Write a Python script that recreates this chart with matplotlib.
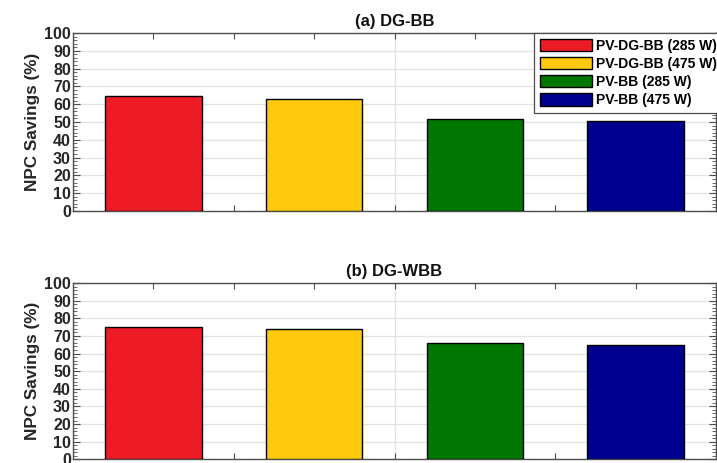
import matplotlib
matplotlib.use("Agg")
import matplotlib.pyplot as plt
from matplotlib.ticker import MultipleLocator, NullFormatter

plt.rcParams['font.family'] = ['Liberation Sans', 'DejaVu Sans']
plt.rcParams['font.weight'] = 'bold'

series = ['PV-DG-BB (285 W)', 'PV-DG-BB (475 W)', 'PV-BB (285 W)', 'PV-BB (475 W)']
colors = ['#ED1C24', '#FFC90E', '#007700', '#00008F']
dg_bb = [64.4, 63.1, 51.7, 50.4]
dg_wbb = [75.0, 74.0, 66.1, 65.1]
titles = ['(a) DG-BB', '(b) DG-WBB']
yticks = list(range(0, 101, 10))

W, H = 717, 463
fig = plt.figure(figsize=(W / 100, H / 100), dpi=100)
left = 73 / W
right = 716 / W
panels = [(33, 211), (283, 459.3)]
data = [dg_bb, dg_wbb]

spine_col = '#4d4d4d'
for (top, bot), vals, title in zip(panels, data, titles):
    ax = fig.add_axes([left, 1 - bot / H, right - left, (bot - top) / H])
    x = list(range(1, len(vals) + 1))
    bars = ax.bar(x, vals, width=0.6, color=colors, edgecolor='black',
                  linewidth=1.0, zorder=3)
    ax.set_xlim(0.5, 4.5)
    ax.set_ylim(0, 100)
    ax.set_yticks(yticks)
    ax.set_yticklabels([str(v) for v in yticks], fontsize=11.5, fontweight='bold')
    ax.yaxis.set_minor_locator(MultipleLocator(2))
    ax.set_xticks([1, 1.5, 2, 2.5, 3, 3.5, 4, 4.5])
    ax.xaxis.set_major_formatter(NullFormatter())
    ax.tick_params(axis='both', which='both', direction='in', top=True,
                   right=True, colors=spine_col, labelcolor='#262626')
    ax.tick_params(axis='y', which='major', length=5, width=0.8, pad=1.5)
    ax.tick_params(axis='y', which='minor', length=3, width=0.6)
    ax.tick_params(axis='x', which='major', length=4, width=0.8)
    for hv in yticks:
        ax.axhline(hv, color='#e3e3e3', linewidth=0.9, zorder=0)
    ax.axvline(2.5, color='#e3e3e3', linewidth=0.9, zorder=0)
    for s in ax.spines.values():
        s.set_color(spine_col)
        s.set_linewidth(1.0)
    ax.set_ylabel('NPC Savings (%)', fontsize=12.3, fontweight='bold',
                  color='#262626', labelpad=3)
    ax.set_title(title, fontsize=12, fontweight='bold', color='#111111', pad=5)
    if title == titles[0]:
        leg = ax.legend(bars, series, loc='upper left',
                        bbox_to_anchor=(534 / W, 1 - 33 / H),
                        bbox_transform=fig.transFigure, borderaxespad=0,
                        fancybox=False, framealpha=1, edgecolor='#4d4d4d',
                        prop={'weight': 'bold', 'size': 10},
                        handlelength=3.75, handleheight=1.0, handletextpad=0.3,
                        labelspacing=0.3, borderpad=0.4)
        leg.get_frame().set_linewidth(0.9)
        leg.set_zorder(10)

fig.savefig('out.png', dpi=100)
